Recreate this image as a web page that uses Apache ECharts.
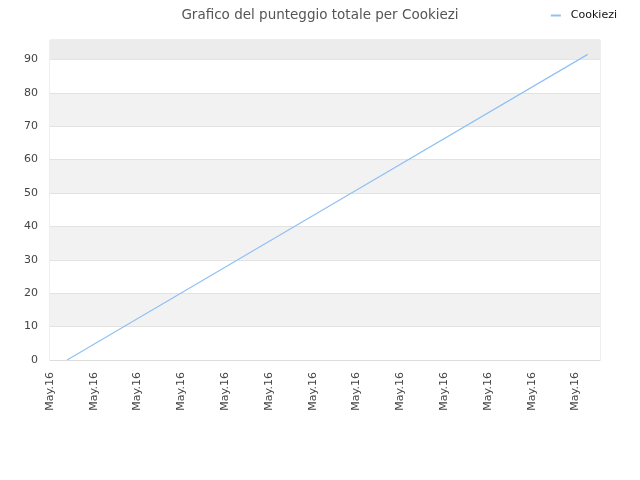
<!DOCTYPE html>
<html>
<head>
<meta charset="utf-8">
<script src="https://cdn.jsdelivr.net/npm/echarts@6/dist/echarts.min.js"></script>
<style>
    html, body { margin: 0; padding: 0; background: #fff; }
    #chart { width: 640px; height: 480px; }
</style>
</head>
<body>
<div id="chart"></div>
<script>
// dati
var titleText = 'Grafico del punteggio totale per Cookiezi';
var seriesName = 'Cookiezi';
var tickLabel = 'May.16';
var xPos = [0.39, 6.0, 12.28];      // posizione sull'asse del tempo (in passi di etichetta)
var scores = [0, 43.2, 91.5];

var chart = echarts.init(document.getElementById('chart'));

var option = {
    animation: false,
    title: {
        text: titleText,
        left: 'center',
        top: 3,
        textStyle: { fontSize: 13.5, fontWeight: 'normal', color: '#555', fontFamily: 'DejaVu Sans' }
    },
    legend: {
        right: 18,
        top: 5,
        itemWidth: 10,
        itemHeight: 2,
        itemGap: 8,
        icon: 'rect',
        textStyle: { fontSize: 11, color: '#111', fontFamily: 'DejaVu Sans', padding: [0, 0, 0, 5] },
        data: [seriesName]
    },
    grid: { left: 50, right: 40, top: 40, bottom: 120, show: true, borderColor: '#ddd', borderWidth: 1 },
    xAxis: {
        type: 'value',
        min: 0,
        max: 12.56,
        interval: 1,
        axisLine: { lineStyle: { color: '#ddd' } },
        axisTick: { show: false },
        splitLine: { show: false },
        axisLabel: {
            rotate: 90,
            fontSize: 11,
            color: '#444',
            fontFamily: 'DejaVu Sans',
            margin: 12,
            showMaxLabel: false,
            formatter: function() { return tickLabel; }
        }
    },
    yAxis: {
        type: 'value',
        min: 0,
        max: 95.8,
        interval: 10,
        axisLine: { show: false },
        axisTick: { show: false },
        axisLabel: { fontSize: 11, color: '#444', fontFamily: 'DejaVu Sans', margin: 12, showMaxLabel: false },
        splitLine: { show: true, lineStyle: { color: '#e2e2e2' } },
        splitArea: { show: true, areaStyle: { color: ['#ffffff', '#f2f2f2'] } }
    },
    series: [{
        name: seriesName,
        type: 'line',
        symbol: 'none',
        lineStyle: { color: '#90c0f4', width: 1.2 },
        itemStyle: { color: '#90c0f4' },
        data: xPos.map(function(x, i) { return [x, scores[i]]; }),
        markArea: {
            silent: true,
            itemStyle: { color: '#ececec' },
            data: [[{ yAxis: 90 }, { yAxis: 95.8 }]]
        }
    }]
};

chart.setOption(option);
</script>
</body>
</html>
